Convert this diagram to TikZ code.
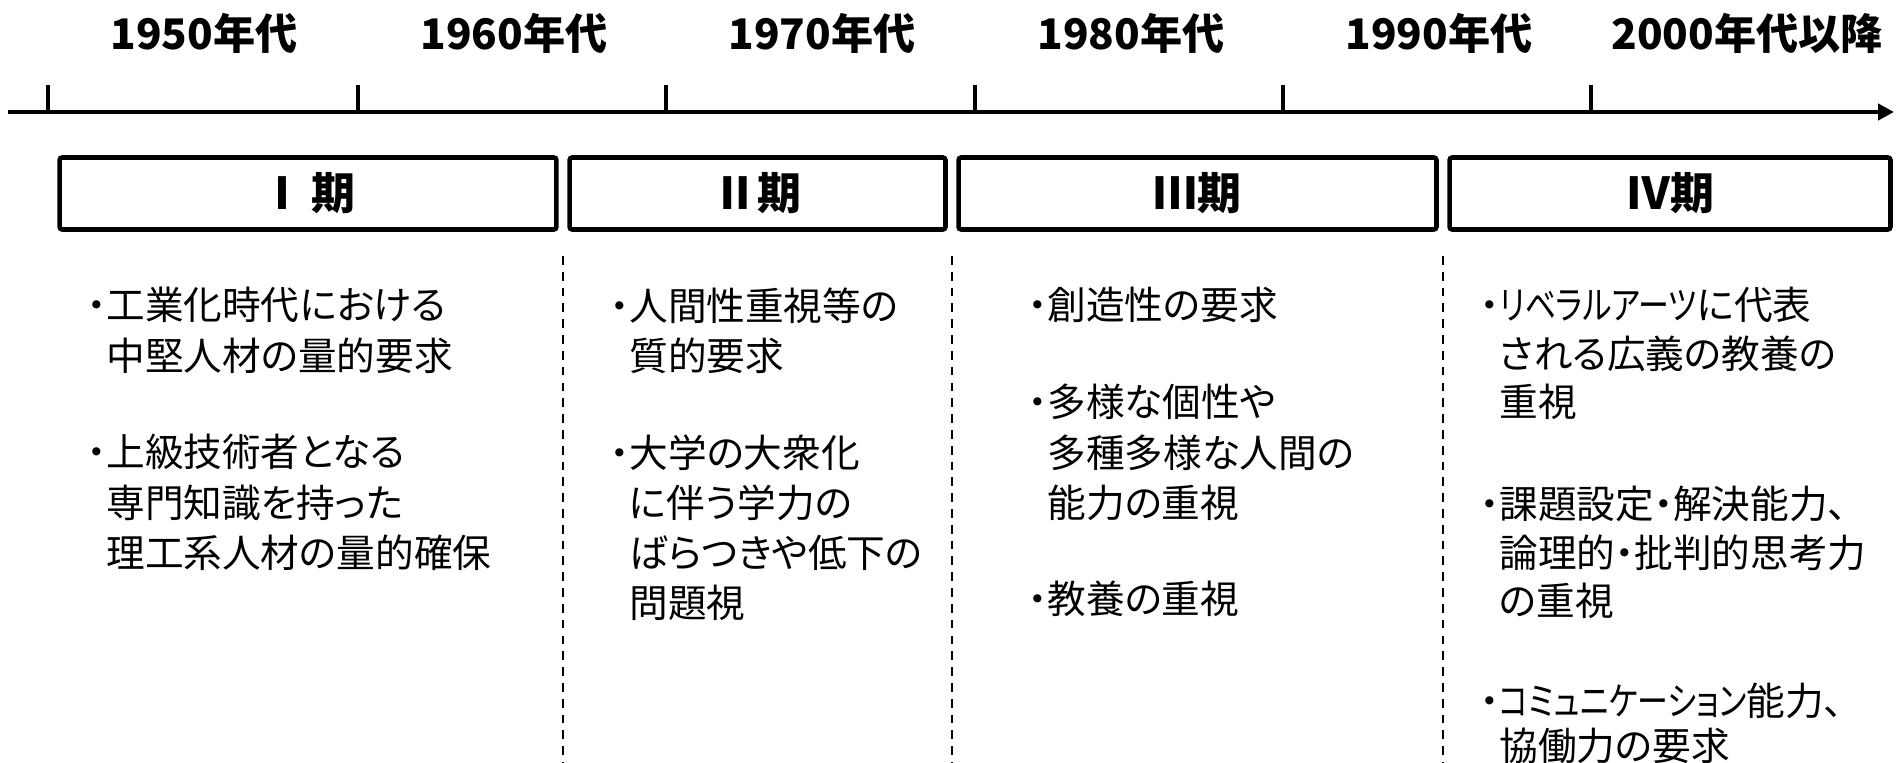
\documentclass[tikz,border=0pt]{standalone}
\usepackage{fontspec}
\setmainfont[RawFeature=+palt]{Noto Sans CJK JP}
\newfontfamily\kana[RawFeature=+palt, FakeStretch=0.8]{Noto Sans CJK JP}
\usetikzlibrary{arrows.meta}

\begin{document}
\begin{tikzpicture}[x=0.02cm, y=-0.02cm,
  decade/.style={font=\fontsize{24}{24}\selectfont\bfseries},
  period/.style={draw, line width=2.6pt, rounded corners=1.5pt, minimum height=1.44cm,
    inner sep=0pt, font=\fontsize{25}{25}\selectfont\bfseries},
  item/.style={anchor=north west, align=left, inner sep=0pt, font=\fontsize{22}{28.6}\selectfont},
  divider/.style={dash pattern=on 5pt off 4pt, line width=0.9pt}]
  \useasboundingbox (0,0) rectangle (1896,763);
  % time axis
  \draw[line width=2.8pt, -{Triangle[length=9pt, width=9pt]}] (8,112) -- (1894,112);
  \foreach \x/\lbl [count=\i] in {48/1950年代, 358/1960年代, 666/1970年代,
      975/1980年代, 1283/1990年代, 1591/2000年代以降} {
    \draw[line width=2.2pt] (\x,85) -- (\x,112);
    \node[decade] (d\i) at (\x+156,33) {\lbl};
  }
  % periods
  \node[period, minimum width=9.94cm] (p1) at (308,193.5) {Ⅰ\,期};
  \node[period, minimum width=7.52cm] (p2) at (757.5,193.5) {Ⅱ期};
  \node[period, minimum width=9.56cm] (p3) at (1197.5,193.5) {Ⅲ期};
  \node[period, minimum width=8.82cm] (p4) at (1670,193.5) {Ⅳ期};
  \draw[divider] (563,256) -- (563,763);
  \draw[divider] (952,256) -- (952,763);
  \draw[divider] (1443,256) -- (1443,763);
  % contents
  \node[item] (a1) at (106,287) {\llap{・}工業化時代における\\中堅人材の量的要求};
  \node[item] (b1) at (106,434) {\llap{・}上級技術者となる\\専門知識を持った\\理工系人材の量的確保};
  \node[item] (a2) at (629,287) {\llap{・}人間性重視等の\\質的要求};
  \node[item] (b2) at (629,434) {\llap{・}大学の大衆化\\に伴う学力の\\ばらつきや低下の\\問題視};
  \node[item] (a3) at (1047,287) {\llap{・}創造性の要求};
  \node[item] (b3) at (1047,384) {\llap{・}多様な個性や\\多種多様な人間の\\能力の重視};
  \node[item] (c3) at (1047,581) {\llap{・}教養の重視};
  \node[item, font=\fontsize{22}{27.6}\selectfont] (a4) at (1499,287) {\llap{・}{\kana リベラルアーツ}に代表\\される広義の教養の\\重視};
  \node[item, font=\fontsize{22}{27.6}\selectfont] (b4) at (1499,486) {\llap{・}課題設定・解決能力、\\論理的・批判的思考力\\の重視};
  \node[item, font=\fontsize{22}{25.5}\selectfont] (c4) at (1499,683) {\llap{・}{\kana コミュニケーション}能力、\\協働力の要求};
\end{tikzpicture}
\end{document}
